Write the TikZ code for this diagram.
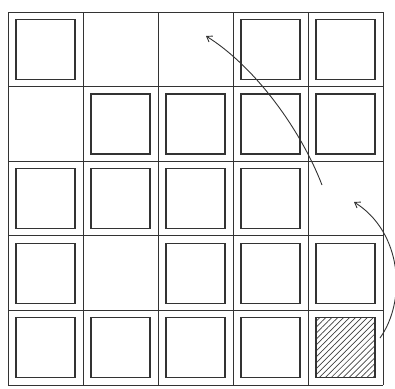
\documentclass[tikz,border=0pt]{standalone}
\usetikzlibrary{patterns.meta,arrows.meta}
\begin{document}
\begin{tikzpicture}[x=1pt,y=-1pt,
  gridline/.style={draw=black!80,line width=0.9pt},
  box/.style={draw=black!80,line width=1.2pt,minimum width=59pt,minimum height=60pt,inner sep=0pt,outer sep=0pt},
  hatchbox/.style={box,pattern={Lines[angle=45,distance=4.2pt,line width=0.7pt]},pattern color=black!75},
  curvearrow/.style={draw=black!80,line width=0.9pt,-{Straight Barb[length=5pt,width=7pt]}}]
\useasboundingbox (0,0) rectangle (395,388);
% grid
\foreach \i/\x in {0/8,1/83,2/158,3/233,4/308,5/383}
  \draw[gridline] (\x,12) -- (\x,385);
\foreach \j/\y in {0/12,1/86.6,2/161.2,3/235.8,4/310.4,5/385}
  \draw[gridline] (8,\y) -- (383,\y);
% inner squares: row/col list
\foreach \r/\c in {0/0,0/3,0/4,
                   1/1,1/2,1/3,1/4,
                   2/0,2/1,2/2,2/3,
                   3/0,3/2,3/3,3/4,
                   4/0,4/1,4/2,4/3}
  \node[box] (b\r\c) at ({8+75*\c+37.5},{12+74.6*\r+37.3}) {};
\node[hatchbox] (b44) at ({8+75*4+37.5},{12+74.6*4+37.3}) {};
% arrows
\coordinate (s1) at (322,185);
\coordinate (t1) at (206,36);
\draw[curvearrow] (s1) .. controls (300,128) and (254,66) .. (t1);
\coordinate (s2) at (380,338);
\coordinate (t2) at (354,202);
\draw[curvearrow] (s2) .. controls (407,300) and (402,232) .. (t2);
\end{tikzpicture}
\end{document}
